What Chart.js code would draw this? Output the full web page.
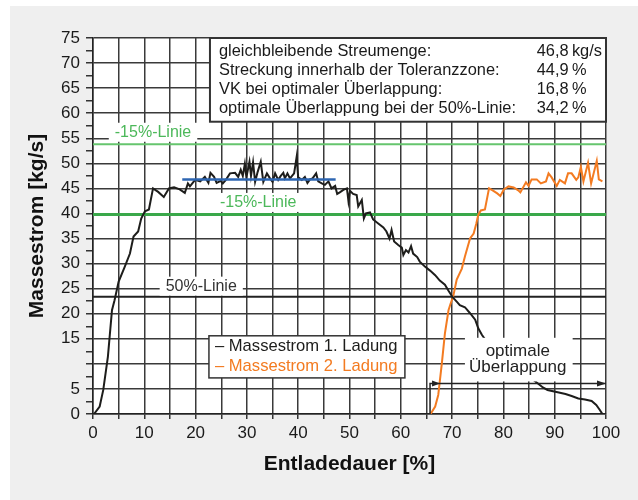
<!DOCTYPE html>
<html>
<head>
<meta charset="utf-8">
<script src="https://cdn.jsdelivr.net/npm/chart.js@4.4.0/dist/chart.umd.min.js"></script>
<style>
  html, body { margin: 0; padding: 0; background: #fff; }
</style>
</head>
<body>
<canvas id="chart" width="638" height="500"></canvas>
<script>
// Massestrom 1. Ladung: Entladedauer [%] / Massestrom [kg/s]
const load1X = [0.2, 1.3, 2.0, 2.9, 3.7, 4.2, 5.0, 6.2, 7.2, 7.9, 8.8, 9.4, 10.1, 10.9, 11.7, 12.7, 13.8, 14.8, 15.8, 16.9,
  17.9, 18.5, 18.9, 19.9, 20.9, 21.8, 22.5, 22.9, 23.6, 24.1, 24.9, 25.3, 25.9, 26.7, 27.7, 28.3, 28.8, 29.2, 29.6, 29.9,
  30.5, 30.8, 31.2, 31.6, 32.1, 32.7, 33.2, 33.9, 34.5, 35.0, 35.5, 36.1, 36.6, 37.1, 37.4, 37.9, 38.4, 39.2, 39.7, 40.0,
  40.7, 41.3, 41.8, 42.3, 42.8, 43.5, 43.9, 44.6, 45.2, 45.9, 46.5, 47.2, 47.6, 48.1, 48.8, 49.5, 49.8, 50.1, 50.7, 51.4,
  51.7, 52.4, 52.8, 53.2, 54.0, 54.6, 55.6, 56.6, 57.2, 57.8, 58.2, 58.7, 59.5, 60.2, 60.5, 61.0, 61.5, 62.0, 62.4, 63.2,
  63.7, 64.7, 65.7, 66.7, 67.6, 68.6, 69.3, 70.1, 70.9, 71.5, 72.5, 73.5, 74.5, 75.1, 75.8, 76.7, 80.0, 84.0, 87.1, 87.7,
  88.6, 89.9, 90.8, 92.1, 93.3, 94.6, 95.9, 97.2, 98.1, 98.8, 99.3];
const load1Y = [0, 1.5, 4.8, 11.4, 20.7, 22.7, 26.4, 29.4, 32.0, 35.4, 36.4, 39.0, 40.4, 40.8, 45.0, 44.3, 43.3, 45.0, 45.2, 44.8,
  44.1, 46.0, 45.4, 46.7, 46.4, 47.3, 46.1, 48.1, 47.3, 46.1, 46.5, 46.0, 46.7, 48.0, 48.1, 47.3, 48.7, 47.5, 49.9, 47.2,
  50.3, 47.5, 50.2, 46.3, 48.3, 50.3, 46.3, 48.0, 47.0, 46.3, 48.0, 46.7, 47.5, 48.1, 47.0, 48.0, 47.0, 48.0, 51.3, 47.2,
  46.7, 47.3, 46.1, 46.8, 47.0, 48.0, 46.4, 46.0, 45.7, 46.4, 45.0, 45.5, 43.9, 44.2, 44.7, 45.0, 42.4, 44.5, 43.9, 43.7,
  41.4, 42.7, 39.0, 40.0, 40.2, 38.8, 38.0, 37.2, 36.4, 35.0, 36.7, 34.4, 33.7, 33.2, 31.7, 32.7, 32.2, 33.5, 32.0, 31.3,
  30.4, 29.4, 28.6, 27.7, 26.6, 25.8, 24.6, 23.3, 22.4, 21.7, 21.3, 20.1, 18.8, 17.1, 15.8, 14.5, 11.5, 8.3, 5.8, 5.3,
  4.8, 4.5, 4.3, 4.0, 3.6, 3.1, 2.9, 2.6, 1.8, 0.8, 0];

// Massestrom 2. Ladung
const load2X = [65.8, 66.7, 67.3, 68.0, 68.6, 69.3, 69.7, 70.2, 70.9, 71.9, 72.5, 73.5, 74.2, 74.7, 75.1, 75.6, 76.4, 77.2,
  77.9, 78.8, 79.4, 80.1, 81.0, 82.0, 82.9, 83.3, 84.4, 84.9, 85.5, 86.5, 87.3, 88.3, 88.8, 89.4, 90.4, 91.0, 92.0, 92.6,
  93.3, 94.2, 94.6, 95.1, 95.6, 96.5, 97.1, 98.2, 98.6, 99.3];
const load2Y = [0, 1.5, 3.8, 10.1, 16.1, 20.7, 22.0, 23.4, 26.8, 29.0, 31.4, 35.0, 36.0, 37.9, 39.7, 40.6, 40.8, 45.0,
  44.6, 44.0, 43.5, 44.8, 45.4, 45.2, 44.6, 44.2, 46.2, 45.5, 46.8, 46.8, 46.0, 46.4, 48.0, 47.2, 45.5, 46.7, 46.0, 48.0,
  48.0, 46.7, 47.2, 49.3, 46.4, 50.1, 46.0, 50.5, 46.8, 46.4];

// reference levels
const meanFlow = 46.8;
const meanFrom = 17.4, meanTo = 47.3;
const upperTol = 53.8, lowerTol = 39.8, halfLine = 23.4;
const overlapFrom = 65.7, overlapTo = 100, arrowLevel = 6.1;

const yLabelValues = [0, 5, 15, 20, 25, 30, 35, 40, 45, 50, 55, 60, 65, 70, 75];
const xLabelValues = [0, 10, 20, 30, 40, 50, 60, 70, 80, 90, 100];

const infoLabels = ['gleichbleibende Streumenge:', 'Streckung innerhalb der Toleranzzone:',
  'VK bei optimaler Überlappung:', 'optimale Überlappung bei der 50%-Linie:'];
const infoValues = ['46,8\u2009kg/s', '44,9\u2009%', '16,8\u2009%', '34,2\u2009%'];

const FONT = '"Liberation Sans", Arial, sans-serif';
const gridColor = '#3a3a3a';

const zip = (xs, ys) => xs.map((x, i) => ({ x: x, y: ys[i] }));
const level = (a, b, y) => [{ x: a, y: y }, { x: b, y: y }];

function textBox(ctx, text, cx, cy, color, size) {
    ctx.font = size + 'px ' + FONT;
    const w = ctx.measureText(text).width;
    ctx.fillStyle = '#fff';
    ctx.fillRect(cx - w / 2 - 6, cy - size / 2 - 2, w + 12, size + 3);
    ctx.fillStyle = color;
    ctx.textAlign = 'center';
    ctx.textBaseline = 'middle';
    ctx.fillText(text, cx, cy);
}

const decor = {
    id: 'decor',
    beforeDraw(chart) {
        const { ctx, chartArea: a, width, height } = chart;
        ctx.save();
        ctx.fillStyle = '#fff';
        ctx.fillRect(0, 0, width, height);
        ctx.fillStyle = '#efefef';
        ctx.fillRect(10, 6, width - 10, height - 6);
        ctx.fillStyle = '#fff';
        ctx.fillRect(a.left, a.top, a.width, a.height);
        ctx.restore();
    },
    afterDatasetsDraw(chart) {
        const { ctx } = chart;
        const sx = chart.scales.x, sy = chart.scales.y;
        const px = v => sx.getPixelForValue(v);
        const py = v => sy.getPixelForValue(v);
        ctx.save();

        // line labels
        textBox(ctx, '-15%-Linie', px(11.7), py(56.1), '#4cb85a', 16);
        textBox(ctx, '-15%-Linie', px(32.2), py(42.1), '#4cb85a', 16);
        textBox(ctx, '50%-Linie', px(21.1), py(25.4), '#333', 16);

        // optimale Überlappung
        const ax = px(overlapFrom), bx = px(overlapTo), ay = py(arrowLevel);
        ctx.fillStyle = '#fff';
        ctx.fillRect(px(72.5), py(15.2), px(93.5) - px(72.5), ay - py(15.2) - 2);
        ctx.strokeStyle = '#222';
        ctx.lineWidth = 1.5;
        ctx.beginPath();
        ctx.moveTo(ax, py(0));
        ctx.lineTo(ax, ay);
        ctx.lineTo(bx, ay);
        ctx.stroke();
        ctx.fillStyle = '#222';
        ctx.beginPath();
        ctx.moveTo(bx, ay); ctx.lineTo(bx - 9, ay - 3); ctx.lineTo(bx - 9, ay + 3); ctx.closePath();
        ctx.fill();
        ctx.beginPath();
        ctx.moveTo(ax + 10, ay); ctx.lineTo(ax + 2, ay - 3); ctx.lineTo(ax + 2, ay + 3); ctx.closePath();
        ctx.fill();
        ctx.font = '17px ' + FONT;
        ctx.fillStyle = '#222';
        ctx.textAlign = 'center';
        ctx.textBaseline = 'middle';
        ctx.fillText('optimale', px(82.8), py(12.6));
        ctx.fillText('Überlappung', px(82.8), py(9.4));

        // info box
        const bl = px(22.8), bt = py(75), br = px(100), bb = py(58.3);
        ctx.fillStyle = '#fff';
        ctx.fillRect(bl, bt, br - bl, bb - bt);
        ctx.strokeStyle = '#333';
        ctx.lineWidth = 2;
        ctx.strokeRect(bl, bt, br - bl, bb - bt);
        ctx.font = '16.4px ' + FONT;
        ctx.fillStyle = '#1a1a1a';
        ctx.textAlign = 'left';
        infoLabels.forEach((t, i) => {
            ctx.fillText(t, bl + 9, bt + 13 + i * 19);
            ctx.fillText(infoValues[i], px(86.5), bt + 13 + i * 19);
        });

        // legend
        const ll = px(22.6), lt = py(15.6), lr = px(60.8), lb = py(7.2);
        ctx.fillStyle = '#fff';
        ctx.fillRect(ll, lt, lr - ll, lb - lt);
        ctx.strokeStyle = '#333';
        ctx.lineWidth = 1.5;
        ctx.strokeRect(ll, lt, lr - ll, lb - lt);
        ctx.font = '16.6px ' + FONT;
        [1, 2].forEach((k, i) => {
            const ds = chart.data.datasets[k];
            ctx.fillStyle = ds.borderColor;
            ctx.fillText('\u2013 ' + ds.label, ll + 6, lt + 11 + i * 20);
        });
        ctx.restore();
    }
};

new Chart(document.getElementById('chart'), {
    type: 'line',
    data: {
        datasets: [
            { label: 'Mittelwert', data: level(meanFrom, meanTo, meanFlow), borderColor: '#2e66b2', borderWidth: 2.5, order: 0 },
            { label: 'Massestrom 1. Ladung', data: zip(load1X, load1Y), borderColor: '#1d1d1b', borderWidth: 2, order: 1 },
            { label: 'Massestrom 2. Ladung', data: zip(load2X, load2Y), borderColor: '#f37b21', borderWidth: 2, order: 1 },
            { label: '+15%', data: level(0, 100, upperTol), borderColor: '#66c56e', borderWidth: 2, order: 2 },
            { label: '-15%', data: level(0, 100, lowerTol), borderColor: '#3aa84a', borderWidth: 3, order: 2 },
            { label: '50%', data: level(0, 100, halfLine), borderColor: '#222', borderWidth: 2, order: 2 }
        ]
    },
    options: {
        responsive: false,
        animation: false,
        layout: { padding: { top: 38, right: 32, left: 0, bottom: 0 } },
        elements: { point: { radius: 0 }, line: { tension: 0, fill: false } },
        plugins: { legend: { display: false }, tooltip: { enabled: false } },
        scales: {
            x: {
                type: 'linear', min: 0, max: 100,
                ticks: {
                    stepSize: 5, autoSkip: false, maxRotation: 0, padding: 4, color: '#1a1a1a',
                    font: { family: FONT, size: 17 },
                    callback: v => xLabelValues.includes(v) ? String(v) : ''
                },
                grid: { color: gridColor, lineWidth: 1.5, tickLength: 5, tickColor: '#333' },
                border: { color: '#222', width: 1.5 },
                title: {
                    display: true, text: 'Entladedauer [%]', color: '#111',
                    font: { family: FONT, size: 21, weight: 'bold' }, padding: { top: 0, bottom: 23 }
                },
                afterFit: s => { s.height = 86; }
            },
            y: {
                type: 'linear', min: 0, max: 75,
                ticks: {
                    stepSize: 2.5, autoSkip: false, padding: 6, color: '#1a1a1a',
                    font: { family: FONT, size: 17 },
                    callback: v => yLabelValues.includes(v) ? String(v) : ''
                },
                grid: {
                    color: c => (c.tick && c.tick.value % 5 === 0) ? gridColor : 'rgba(0,0,0,0)',
                    lineWidth: 1.5, tickLength: 7, tickColor: '#333'
                },
                border: { color: '#222', width: 1.5 },
                title: {
                    display: true, text: 'Massestrom [kg/s]', color: '#111',
                    font: { family: FONT, size: 21, weight: 'bold' }, padding: { top: 25, bottom: 0 }
                },
                afterFit: s => { s.width = 93; }
            }
        }
    },
    plugins: [decor]
});
</script>
</body>
</html>
